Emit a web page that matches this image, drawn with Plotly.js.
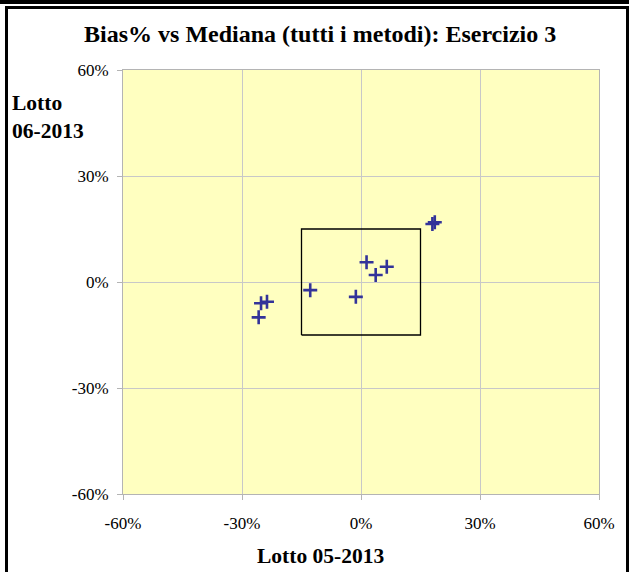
<!DOCTYPE html>
<html>
<head>
<meta charset="utf-8">
<script src="https://cdn.plot.ly/plotly-3.0.1.min.js"></script>
<style>
  html, body { margin: 0; padding: 0; background: #ffffff; }
  #wrap { position: relative; width: 629px; height: 572px; overflow: hidden; }
  #chart { position: absolute; left: 0; top: 0; width: 629px; height: 572px; }
  #band { position: absolute; left: 0; top: 0; width: 629px; height: 4px; background: #000; pointer-events: none; }
  #frame { position: absolute; left: 5px; top: 6px; width: 618px; height: 580px;
           border-left: 3px solid #000; border-top: 3px solid #000; border-right: 3px solid #000;
           pointer-events: none; }
</style>
</head>
<body>
<div id="wrap">
  <div id="chart"></div>
  <div id="band"></div>
  <div id="frame"></div>
</div>
<script>
// Data (percent values)
const biasX = [1.4, 6.5, 3.7, -12.8, -1.3, -25.2, -23.7, -25.8, 18.0, 18.6];
const biasY = [5.6, 4.3, 2.0, -2.3, -4.2, -6.0, -5.6, -10.0, 16.4, 16.9];
// Acceptance box (±15%)
const boxX = [-15, 15, 15, -15, -15];
const boxY = [-15, -15, 15, 15, -15];
const tickVals = [-60, -30, 0, 30, 60];
const tickText = ['-60%', '-30%', '0%', '30%', '60%'];

const serif = '"Liberation Serif", "Times New Roman", Times, serif';

const traces = [
  {
    x: boxX, y: boxY, type: 'scatter', mode: 'lines',
    line: { color: '#000000', width: 1.3 },
    hoverinfo: 'skip', showlegend: false
  },
  {
    x: biasX, y: biasY, type: 'scatter', mode: 'markers',
    marker: { symbol: 'cross-thin', size: 10, color: '#333399',
              line: { color: '#333399', width: 2.6 } },
    showlegend: false
  }
];

const axisCommon = {
  range: [-60, 60],
  tickvals: tickVals,
  ticktext: tickText,
  showgrid: true,
  gridcolor: '#c8c8c8',
  gridwidth: 1,
  zeroline: false,
  showline: true,
  linecolor: '#b4b4b4',
  linewidth: 1,
  mirror: true,
  ticks: 'outside',
  ticklen: 5,
  tickcolor: '#b4b4b4',
  tickfont: { family: serif, size: 17, color: '#000000' },
  fixedrange: true
};

const layout = {
  width: 629, height: 572,
  margin: { l: 123, r: 30, t: 70, b: 78 },
  paper_bgcolor: '#ffffff',
  plot_bgcolor: '#ffffc0',
  title: {
    text: '<b>Bias% vs Mediana (tutti i metodi): Esercizio 3</b>',
    font: { family: serif, size: 24, color: '#000000' },
    x: 0.509, xanchor: 'center', xref: 'container',
    y: 0.942, yanchor: 'middle', yref: 'container'
  },
  xaxis: Object.assign({}, axisCommon, { ticklabelstandoff: 9 }),
  yaxis: Object.assign({}, axisCommon, { ticklabelstandoff: 5 }),
  showlegend: false,
  annotations: [
    {
      text: '<b>Lotto 05-2013</b>',
      xref: 'paper', yref: 'paper', x: 0.414, y: 0,
      xanchor: 'center', yanchor: 'middle', yshift: -62,
      showarrow: false,
      font: { family: serif, size: 21.5, color: '#000000' }
    },
    {
      text: '<b>Lotto<br>06-2013</b>',
      xref: 'paper', yref: 'paper', x: -0.237, y: 1,
      xanchor: 'left', yanchor: 'top', yshift: -19, align: 'left',
      showarrow: false,
      font: { family: serif, size: 21.5, color: '#000000' }
    }
  ]
};

Plotly.newPlot('chart', traces, layout, { displayModeBar: false, staticPlot: true });
</script>
</body>
</html>
